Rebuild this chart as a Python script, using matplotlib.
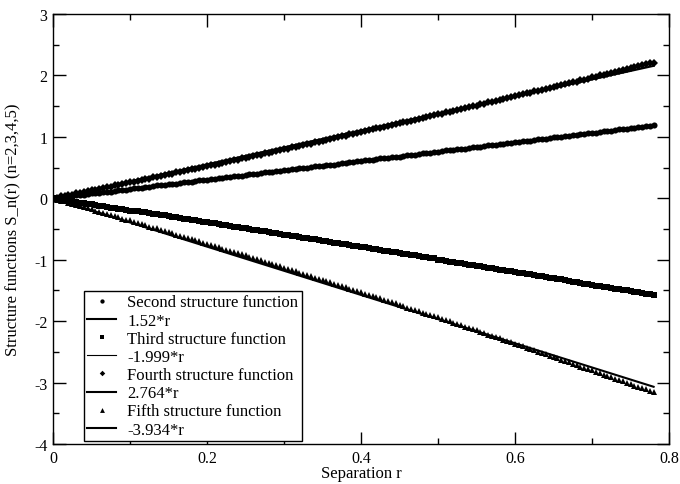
import numpy as np
import matplotlib
matplotlib.use("Agg")
import matplotlib.pyplot as plt
from matplotlib.ticker import MultipleLocator

plt.rcParams['font.family'] = ['Liberation Serif', 'DejaVu Serif']

# separation r (uniform sampling, 0 .. 0.78)
r = np.linspace(0, 0.78, 157)

s2 = [0, .01, .02, .02, .03, .04, .05, .05, .06, .07,
      .08, .08, .09, .10, .11, .11, .12, .13, .14, .14,
      .15, .16, .17, .17, .18, .19, .20, .21, .21, .22,
      .23, .24, .24, .25, .26, .27, .27, .28, .29, .30,
      .30, .31, .32, .33, .33, .34, .35, .36, .36, .37,
      .38, .39, .40, .40, .41, .42, .43, .43, .44, .45,
      .46, .46, .47, .48, .49, .49, .50, .51, .52, .52,
      .53, .54, .55, .55, .56, .57, .58, .59, .59, .60,
      .61, .62, .62, .63, .64, .65, .65, .66, .67, .68,
      .68, .69, .70, .71, .71, .72, .73, .74, .74, .75,
      .76, .77, .78, .78, .79, .80, .81, .81, .82, .83,
      .84, .84, .85, .86, .87, .87, .88, .89, .90, .90,
      .91, .92, .93, .93, .94, .95, .96, .97, .97, .98,
      .99, 1.00, 1.00, 1.01, 1.02, 1.03, 1.03, 1.04, 1.05, 1.06,
      1.06, 1.07, 1.08, 1.09, 1.09, 1.10, 1.11, 1.12, 1.12, 1.13,
      1.14, 1.15, 1.16, 1.16, 1.17, 1.18, 1.19]

s3 = [0, -.01, -.02, -.03, -.04, -.05, -.06, -.07, -.08, -.09,
      -.10, -.11, -.12, -.13, -.14, -.15, -.16, -.17, -.18, -.19,
      -.20, -.20, -.21, -.22, -.23, -.24, -.25, -.26, -.27, -.28,
      -.29, -.30, -.31, -.32, -.33, -.34, -.35, -.36, -.37, -.38,
      -.39, -.40, -.41, -.42, -.43, -.44, -.45, -.46, -.47, -.48,
      -.49, -.50, -.51, -.52, -.53, -.54, -.55, -.56, -.57, -.58,
      -.59, -.60, -.61, -.62, -.63, -.64, -.65, -.66, -.67, -.68,
      -.69, -.70, -.71, -.72, -.73, -.74, -.75, -.76, -.77, -.78,
      -.79, -.80, -.81, -.82, -.83, -.84, -.85, -.86, -.87, -.88,
      -.89, -.90, -.91, -.92, -.93, -.94, -.95, -.96, -.97, -.98,
      -1.00, -1.01, -1.02, -1.03, -1.04, -1.05, -1.06, -1.07, -1.08, -1.09,
      -1.10, -1.11, -1.12, -1.13, -1.14, -1.15, -1.16, -1.17, -1.18, -1.19,
      -1.20, -1.21, -1.22, -1.23, -1.24, -1.25, -1.26, -1.27, -1.28, -1.29,
      -1.30, -1.31, -1.32, -1.33, -1.34, -1.36, -1.37, -1.38, -1.39, -1.40,
      -1.41, -1.42, -1.43, -1.44, -1.45, -1.46, -1.47, -1.48, -1.49, -1.50,
      -1.51, -1.52, -1.53, -1.54, -1.55, -1.56, -1.57]

s4 = [0, .01, .03, .04, .05, .06, .08, .09, .10, .12,
      .13, .14, .15, .17, .18, .19, .21, .22, .23, .25,
      .26, .27, .28, .30, .31, .32, .34, .35, .36, .38,
      .39, .40, .42, .43, .44, .46, .47, .48, .50, .51,
      .52, .54, .55, .56, .58, .59, .61, .62, .63, .65,
      .66, .67, .69, .70, .71, .73, .74, .76, .77, .78,
      .80, .81, .83, .84, .85, .87, .88, .89, .91, .92,
      .94, .95, .96, .98, .99, 1.01, 1.02, 1.04, 1.05, 1.06,
      1.08, 1.09, 1.11, 1.12, 1.14, 1.15, 1.16, 1.18, 1.19, 1.21,
      1.22, 1.24, 1.25, 1.26, 1.28, 1.29, 1.31, 1.32, 1.34, 1.35,
      1.37, 1.38, 1.40, 1.41, 1.42, 1.44, 1.45, 1.47, 1.48, 1.50,
      1.51, 1.53, 1.54, 1.56, 1.57, 1.59, 1.60, 1.62, 1.63, 1.65,
      1.66, 1.68, 1.69, 1.71, 1.72, 1.74, 1.75, 1.77, 1.78, 1.80,
      1.81, 1.83, 1.84, 1.86, 1.87, 1.89, 1.90, 1.92, 1.93, 1.95,
      1.97, 1.98, 2.00, 2.01, 2.03, 2.04, 2.06, 2.07, 2.09, 2.10,
      2.12, 2.14, 2.15, 2.17, 2.18, 2.20, 2.21]

s5 = [0, -.02, -.04, -.05, -.07, -.09, -.11, -.13, -.14, -.16,
      -.18, -.20, -.22, -.24, -.25, -.27, -.29, -.31, -.33, -.35,
      -.36, -.38, -.40, -.42, -.44, -.46, -.48, -.49, -.51, -.53,
      -.55, -.57, -.59, -.61, -.63, -.65, -.66, -.68, -.70, -.72,
      -.74, -.76, -.78, -.80, -.82, -.84, -.86, -.88, -.89, -.91,
      -.93, -.95, -.97, -.99, -1.01, -1.03, -1.05, -1.07, -1.09, -1.11,
      -1.13, -1.15, -1.17, -1.19, -1.21, -1.23, -1.25, -1.27, -1.29, -1.31,
      -1.33, -1.35, -1.37, -1.39, -1.41, -1.43, -1.45, -1.47, -1.49, -1.51,
      -1.53, -1.55, -1.57, -1.59, -1.61, -1.63, -1.65, -1.67, -1.69, -1.71,
      -1.73, -1.75, -1.78, -1.80, -1.82, -1.84, -1.86, -1.88, -1.90, -1.92,
      -1.94, -1.96, -1.98, -2.00, -2.03, -2.05, -2.07, -2.09, -2.11, -2.13,
      -2.15, -2.17, -2.19, -2.22, -2.24, -2.26, -2.28, -2.30, -2.32, -2.34,
      -2.37, -2.39, -2.41, -2.43, -2.45, -2.47, -2.50, -2.52, -2.54, -2.56,
      -2.58, -2.60, -2.63, -2.65, -2.67, -2.69, -2.71, -2.74, -2.76, -2.78,
      -2.80, -2.82, -2.85, -2.87, -2.89, -2.91, -2.94, -2.96, -2.98, -3.00,
      -3.02, -3.05, -3.07, -3.09, -3.11, -3.14, -3.16]

# fitted slopes
slopes = [1.52, -1.999, 2.764, -3.934]
nomes = ["Second structure function", "Third structure function",
         "Fourth structure function", "Fifth structure function"]
fit_labels = ["1.52*r", "-1.999*r", "2.764*r", "-3.934*r"]

series = [s2, s3, s4, s5]
marcadores = ['o', 's', 'D', '^']
tamanhos = [4.4, 4.0, 4.0, 5.0]
larguras = [1.5, 0.8, 1.5, 1.5]

fig = plt.figure(figsize=(6.8, 4.85), dpi=100)
ax = fig.add_axes([53/680, 40/485, 616/680, 430/485])

for i, s in enumerate(series):
    ax.plot(r, s, linestyle='none', marker=marcadores[i], ms=tamanhos[i],
            color='black', mew=0, label=nomes[i])
    ax.plot([0, r[-1]], [0, slopes[i]*r[-1]], color='black', lw=larguras[i],
            label=fit_labels[i])

ax.set_xlim(0, 0.8)
ax.set_ylim(-4, 3)
ax.xaxis.set_major_locator(MultipleLocator(0.2))
ax.xaxis.set_minor_locator(MultipleLocator(0.1))
ax.yaxis.set_major_locator(MultipleLocator(1))
ax.yaxis.set_minor_locator(MultipleLocator(0.5))
ax.xaxis.set_major_formatter(plt.FuncFormatter(lambda v, p: f"{v:g}"))
ax.yaxis.set_major_formatter(plt.FuncFormatter(lambda v, p: f"{v:g}"))
ax.tick_params(which='both', direction='in', top=True, right=True, width=1, labelsize=11.5)
ax.tick_params(which='major', length=9, pad=4)
ax.tick_params(which='minor', length=4.5)
for sp in ax.spines.values():
    sp.set_linewidth(1)

fig.text(361/680, 1 - 474/485, "Separation r", ha='center', va='center', fontsize=12)
fig.text(13/680, 1 - 230/485, "Structure functions S_n(r) (n=2,3,4,5)",
         ha='center', va='center', rotation=90, fontsize=12)

leg = ax.legend(loc='lower left', bbox_to_anchor=((84-53)/616, (445-442)/430),
                fontsize=12, frameon=True, fancybox=False, edgecolor='black',
                framealpha=1, numpoints=1, markerscale=0.7, handlelength=1.7,
                handletextpad=0.7, labelspacing=0.13, borderpad=0.2,
                borderaxespad=0)
leg.get_frame().set_linewidth(1)

fig.savefig("out.png", dpi=100)
